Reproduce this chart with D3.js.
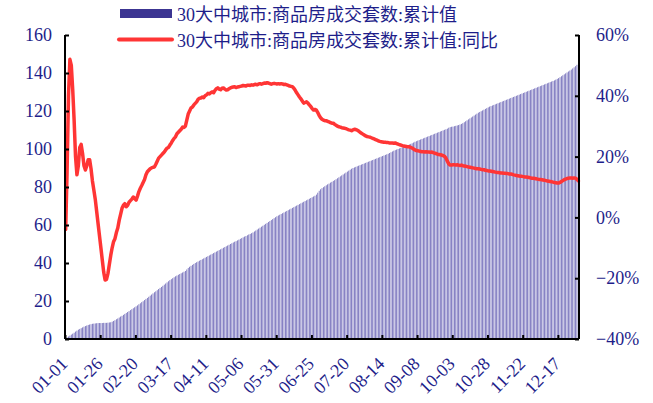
<!DOCTYPE html>
<html>
<head>
<meta charset="utf-8">
<script src="https://cdn.jsdelivr.net/npm/d3@7"></script>
<style>
  body { margin: 0; background: #fff; }
  text { font-family: "Liberation Serif", "Noto Sans CJK SC", serif; }
</style>
</head>
<body>
<svg id="chart"></svg>
<script>
// series names
var barName = "30大中城市:商品房成交套数:累计值";
var lineName = "30大中城市:商品房成交套数:累计值:同比";

// x tick labels (every 25 days)
var tickLabels = ["01-01","01-26","02-20","03-17","04-11","05-06","05-31","06-25",
                  "07-20","08-14","09-08","10-03","10-28","11-22","12-17"];
var leftTicks = [0,20,40,60,80,100,120,140,160];
var rightTicks = [-40,-20,0,20,40,60];

// cumulative value, one per day
var cumValues = [
  0.3,0.8,1.3,1.8,2.3,2.8,3.3,3.9,4.4,4.9,5.3,5.7,6.1,6.5,6.8,7.1,7.4,7.6,7.8,8.0,8.1,8.2,8.3,8.4,8.4,
  8.4,8.4,8.5,8.5,8.5,8.6,8.7,8.8,9.1,9.5,9.9,10.4,10.8,11.3,11.8,12.2,12.7,13.2,13.7,14.2,14.7,15.2,15.7,16.2,16.7,
  17.2,17.7,18.3,18.8,19.4,19.9,20.5,21.1,21.6,22.2,22.8,23.4,24.0,24.6,25.1,25.7,26.3,26.9,27.4,28.0,28.6,29.2,29.8,30.4,31.0,
  31.5,32.0,32.5,33.0,33.4,33.8,34.2,34.6,35.0,35.4,35.8,36.6,37.4,38.0,38.5,39.0,39.5,40.0,40.4,40.8,41.2,41.6,42.0,42.4,42.8,
  43.2,43.6,44.0,44.4,44.8,45.2,45.6,46.0,46.4,46.8,47.2,47.6,48.0,48.4,48.8,49.2,49.6,50.0,50.4,50.8,51.2,51.5,51.9,52.3,52.7,
  53.1,53.5,53.9,54.2,54.6,55.0,55.3,55.7,56.1,56.6,57.1,57.6,58.1,58.6,59.1,59.6,60.1,60.6,61.1,61.6,62.1,62.6,63.1,63.6,64.1,
  64.6,65.0,65.4,65.8,66.2,66.6,67.0,67.4,67.8,68.2,68.6,69.0,69.4,69.8,70.2,70.6,71.0,71.4,71.8,72.2,72.6,73.0,73.4,73.8,74.2,
  74.6,75.0,75.4,76.0,77.0,78.0,78.8,79.4,79.9,80.4,80.9,81.4,81.8,82.3,82.7,83.2,83.6,84.1,84.6,85.1,85.6,86.1,86.6,87.1,87.6,
  88.1,88.6,89.1,89.6,90.0,90.3,90.6,90.9,91.2,91.5,91.8,92.1,92.4,92.7,93.0,93.3,93.6,93.9,94.2,94.5,94.8,95.1,95.4,95.7,96.0,
  96.3,96.6,96.9,97.2,97.5,97.9,98.3,98.7,99.1,99.4,99.7,100.0,100.3,100.6,100.9,101.2,101.5,101.8,102.1,102.4,102.7,103.0,103.4,103.8,104.1,
  104.4,104.7,105.0,105.3,105.6,105.9,106.2,106.5,106.8,107.1,107.4,107.7,108.0,108.3,108.6,108.9,109.2,109.5,109.8,110.1,110.4,110.7,111.2,111.5,111.7,
  111.8,112.0,112.2,112.4,112.6,112.9,113.2,113.6,114.1,114.6,115.1,115.6,116.1,116.6,117.1,117.6,118.1,118.6,119.1,119.5,119.9,120.3,120.7,121.1,121.5,
  121.9,122.3,122.6,122.9,123.2,123.5,123.8,124.1,124.4,124.7,125.0,125.3,125.6,125.9,126.2,126.5,126.8,127.1,127.4,127.7,128.0,128.3,128.6,128.9,129.2,
  129.5,129.8,130.1,130.4,130.7,131.0,131.3,131.6,131.9,132.2,132.5,132.8,133.1,133.4,133.7,134.0,134.3,134.6,134.9,135.2,135.5,135.8,136.1,136.5,136.9,
  137.3,137.8,138.3,138.8,139.3,139.8,140.3,140.8,141.3,141.8,142.4,143.0,143.6,144.3,145.0
];

// year on year, %, one per day
var yoyValues = [
  -4,15,40,52,50,42,32,20,14,17,23,24,21,17,15.6,17,19,19,16,12,9,6,2,-2,-6,
  -10,-14,-18,-20.6,-20.4,-18.5,-15.5,-12.5,-10,-8,-7,-5,-3.5,-1,1,3,4,4.5,3.5,4,5,5.5,6,6.7,6.2,
  5.7,7,8.5,9.6,10.5,11.5,12.5,14,15,15.5,16,16.3,16.5,16.6,17.5,18.5,19.5,20,20.5,21,21.5,22.2,22.8,23,23.8,
  24.5,25.3,26,26.5,27.5,28,28.5,29,29.7,29.6,30,32,34,35,36,36.3,37,37.5,38,38.8,39.2,39.3,39.6,39.4,40,
  40.3,40.8,40.6,41,41.3,41,41.8,42.3,42.6,42.2,42,42.5,42.6,42.2,41.9,42,42.3,42.6,42.8,42.9,43,42.7,42.9,43,43.1,
  43.2,43.4,43.3,43.2,43.5,43.5,43.4,43.6,43.5,43.7,43.8,43.6,43.9,44,43.8,44,44.2,44.1,44.3,44.2,44,43.8,44,44.1,44,
  43.9,44,43.9,44,43.9,43.7,43.8,43.6,43.4,43.2,43.1,43,42.5,41.8,41,40.3,39.6,39,38.3,37.6,37.8,38,37.6,37,36.5,
  35.8,35.3,35.5,35.3,34.5,33.5,32.8,32.3,32,31.8,31.8,31.6,31.4,31.2,31,31,30.6,30.3,30,29.8,29.7,29.5,29.4,29.3,29.2,
  29,28.8,28.7,28.5,28.8,29,28.9,28.7,28.4,28,27.7,27.4,27.1,26.8,26.6,26.5,26.4,26.2,26,25.8,25.6,25.4,25.2,25,24.9,
  24.8,24.7,24.7,24.6,24.6,24.5,24.5,24.5,24.4,24.5,24.3,24.1,23.9,23.8,23.6,23.5,23.4,23.3,23.2,23.2,23,22.8,22.5,22.2,22,
  21.9,21.8,21.7,21.6,21.6,21.5,21.6,21.5,21.5,21.4,21.5,21.3,21.1,21,20.8,20.7,20.6,20.5,20.3,20.1,19.5,18.5,17.6,17.2,17.2,
  17.3,17.3,17.2,17.3,17.2,17.1,17.2,17,16.9,16.8,16.7,16.6,16.5,16.4,16.3,16.2,16.1,16,16,15.9,15.8,15.7,15.7,15.5,15.4,
  15.3,15.3,15.2,15.1,15,14.9,14.8,14.8,14.7,14.6,14.6,14.5,14.5,14.4,14.4,14.3,14.3,14.2,14,13.9,13.8,13.7,13.6,13.5,13.5,
  13.4,13.3,13.3,13.2,13.1,13,12.9,12.9,12.8,12.7,12.6,12.5,12.5,12.4,12.3,12.2,12.1,12,11.9,11.8,11.7,11.6,11.5,11.4,11.3,
  11.3,11.5,11.8,12.1,12.4,12.6,12.8,12.9,13,13,12.9,13,12.9,12.5,12
];

// day categories 01-01 .. 12-31
var fmt = d3.timeFormat("%m-%d");
var days = d3.timeDays(new Date(2022,0,1), new Date(2023,0,1)).map(fmt);

var W = 653, H = 403;
var textColor = "#1e1e8a";
var legendBarColor = "#3c3592";
var barColor = "#655fb3";   // thin bars read lighter than the legend swatch
var lineColor = "#ff3535";
var margin = {left: 65, right: 579, top: 35, bottom: 339};

var svg = d3.select("#chart").attr("width", W).attr("height", H);

var x = d3.scaleBand().domain(days).range([margin.left, margin.right]).paddingInner(0.45).paddingOuter(0.2);
var y = d3.scaleLinear().domain([0,160]).range([margin.bottom, margin.top]);
var y2 = d3.scaleLinear().domain([-40,60]).range([margin.bottom, margin.top]);

// bars
svg.append("g")
  .selectAll("rect")
  .data(cumValues)
  .enter().append("rect")
  .attr("x", function(d,i){ return x(days[i]); })
  .attr("width", x.bandwidth())
  .attr("y", function(d){ return y(d); })
  .attr("height", function(d){ return y(0) - y(d); })
  .attr("fill", barColor);

// line
svg.append("path")
  .datum(yoyValues)
  .attr("fill", "none")
  .attr("stroke", lineColor)
  .attr("stroke-width", 3.5)
  .attr("stroke-linejoin", "round")
  .attr("stroke-linecap", "round")
  .attr("d", d3.line()
     .x(function(d,i){ return x(days[i]) + x.bandwidth()/2; })
     .y(function(d){ return y2(d); }));

// axes
var leftAxis = svg.append("g")
  .attr("transform", "translate(" + margin.left + ",0)")
  .call(d3.axisLeft(y).tickValues(leftTicks).tickSize(-4).tickPadding(13));
var rightAxis = svg.append("g")
  .attr("transform", "translate(" + margin.right + ",0)")
  .call(d3.axisRight(y2).tickValues(rightTicks).tickSize(-4).tickPadding(17)
     .tickFormat(function(d){ return (d < 0 ? "\u2212" + (-d) : d) + "%"; }));
var tickScale = d3.scaleLinear().domain([0, days.length]).range([margin.left, margin.right]);
var bottomAxis = svg.append("g")
  .attr("transform", "translate(0," + margin.bottom + ")")
  .call(d3.axisBottom(tickScale)
     .tickValues(tickLabels.map(function(t){ return days.indexOf(t); }))
     .tickSize(-4).tickFormat(""));

[leftAxis, rightAxis, bottomAxis].forEach(function(g){
  g.select(".domain").attr("stroke", "#000").attr("stroke-width", 2);
  g.selectAll(".tick line").attr("stroke", "#000").attr("stroke-width", 2);
  g.selectAll("text").attr("fill", textColor).style("font-size", "18px")
    .style("font-family", "Liberation Serif");
});
leftAxis.select(".domain").attr("d", "M0," + margin.top + "V" + margin.bottom);
rightAxis.select(".domain").attr("d", "M0," + margin.top + "V" + margin.bottom);
bottomAxis.select(".domain").attr("d", "M" + margin.left + ",0H" + margin.right);

// rotated x labels
svg.append("g")
  .selectAll("text")
  .data(tickLabels)
  .enter().append("text")
  .attr("transform", function(d){
     var px = x(d) + x.bandwidth()/2 + 3;
     return "translate(" + px + ",365) rotate(-45)";
  })
  .attr("text-anchor", "end")
  .attr("fill", textColor)
  .style("font-size", "18px")
  .text(function(d){ return d; });

// legend
var legend = svg.append("g");
legend.append("rect").attr("x", 120).attr("y", 9).attr("width", 52).attr("height", 9).attr("fill", legendBarColor);
legend.append("text").attr("x", 177).attr("y", 21).attr("fill", textColor).style("font-size", "18px").text(barName);
legend.append("line").attr("x1", 119).attr("x2", 172).attr("y1", 39.5).attr("y2", 39.5)
  .attr("stroke", lineColor).attr("stroke-width", 4).attr("stroke-linecap", "round");
legend.append("text").attr("x", 177).attr("y", 47).attr("fill", textColor).style("font-size", "18px").text(lineName);
</script>
</body>
</html>
